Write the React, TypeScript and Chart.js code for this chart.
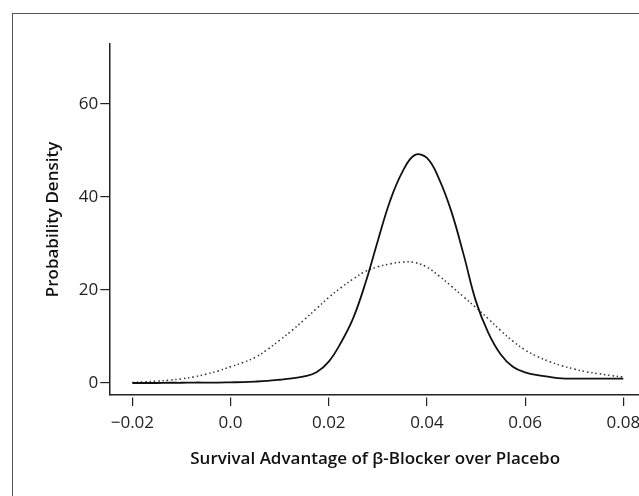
import { useEffect, useRef } from "react";
import { Chart, registerables } from "chart.js";

Chart.register(...registerables);

// x positions (survival advantage) shared by both curves
const xValues = [
  -0.02, -0.0175, -0.015, -0.0125, -0.01, -0.0075, -0.005, -0.0025, 0, 0.0025,
  0.005, 0.0075, 0.01, 0.0125, 0.015, 0.0175, 0.02, 0.0225, 0.025, 0.0275,
  0.03, 0.0325, 0.035, 0.0375, 0.04, 0.0425, 0.045, 0.0475, 0.05, 0.0525,
  0.055, 0.0575, 0.06, 0.0625, 0.065, 0.0675, 0.07, 0.0725, 0.075, 0.0775, 0.08,
];

// solid curve (narrow, peaked)
const solidDensity = [
  0, 0, 0, 0.05, 0.05, 0.1, 0.1, 0.1, 0.15, 0.2,
  0.3, 0.45, 0.7, 1.0, 1.4, 2.3, 4.6, 8.7, 14.0, 21.6,
  30.6, 39.2, 45.4, 49.0, 48.4, 43.8, 36.8, 27.5, 17.5, 10.8,
  6.2, 3.5, 2.3, 1.7, 1.3, 1.0, 0.95, 0.95, 0.95, 0.95, 0.95,
];

// dotted curve (wide)
const dottedDensity = [
  0.1, 0.25, 0.4, 0.6, 0.9, 1.3, 1.9, 2.6, 3.5, 4.4,
  5.5, 7.2, 9.2, 11.3, 13.6, 16.0, 18.4, 20.5, 22.4, 24.0,
  25.0, 25.6, 26.0, 25.9, 24.9, 23.0, 20.8, 18.5, 16.2, 13.8,
  11.3, 9.0, 7.1, 5.7, 4.6, 3.7, 3.0, 2.4, 2.0, 1.6, 1.3,
];

const xTickValues = [-0.02, 0, 0.02, 0.04, 0.06, 0.08];
const xTickLabels = ["\u22120.02", "0.0", "0.02", "0.04", "0.06", "0.08"];
const yTickValues = [0, 20, 40, 60];
const yTickLabels = ["0", "20", "40", "60"];

const xTitle = "Survival Advantage of \u03B2-Blocker over Placebo";
const yTitle = "Probability Density";

const FONT = "'Open Sans', 'Noto Sans', sans-serif";
const INK = "#222";

export default function App() {
  const canvasRef = useRef<HTMLCanvasElement | null>(null);

  useEffect(() => {
    const canvas = canvasRef.current;
    if (!canvas) return;
    const chart = new Chart(canvas, {
      type: "line",
      data: {
        datasets: [
          {
            label: "solid",
            data: xValues.map((x, i) => ({ x, y: solidDensity[i] })),
            borderColor: "#111",
            borderWidth: 1.8,
            pointRadius: 0,
            tension: 0.4,
            fill: false,
          },
          {
            label: "dotted",
            data: xValues.map((x, i) => ({ x, y: dottedDensity[i] })),
            borderColor: "#333",
            borderWidth: 1.5,
            borderDash: [1.5, 2.8],
            pointRadius: 0,
            tension: 0.4,
            fill: false,
          },
        ],
      },
      options: {
        animation: false,
        responsive: false,
        devicePixelRatio: 1,
        layout: { padding: { top: 44, left: 0, right: 0, bottom: 0 } },
        plugins: {
          legend: { display: false },
          tooltip: { enabled: false },
        },
        scales: {
          x: {
            type: "linear",
            min: -0.0247,
            max: 0.0836,
            border: { display: true, color: INK, width: 1.5 },
            grid: {
              display: true,
              drawOnChartArea: false,
              drawTicks: true,
              tickLength: 11,
              color: INK,
              lineWidth: 1.2,
              tickBorderDash: [9, 20],
              tickBorderDashOffset: -2,
            },
            ticks: {
              color: INK,
              font: { family: FONT, size: 17 },
              padding: 7,
              maxRotation: 0,
              autoSkip: false,
              callback: (_v: any, i: number) => xTickLabels[i],
            },
            afterBuildTicks: (s: any) => {
              s.ticks = xTickValues.map((v) => ({ value: v }));
            },
            afterFit: (s: any) => {
              s.height = 101;
              s.paddingLeft = 0;
              s.paddingRight = 0;
            },
            title: {
              display: true,
              text: xTitle,
              color: "#111",
              font: { family: FONT, size: 17, weight: "600" },
              padding: { top: 0, bottom: 27 },
            },
          },
          y: {
            type: "linear",
            min: -2.58,
            max: 72.9,
            border: { display: true, color: INK, width: 1.5 },
            grid: {
              display: true,
              drawOnChartArea: false,
              drawTicks: true,
              tickLength: 9,
              color: INK,
              lineWidth: 1.2,
            },
            ticks: {
              color: INK,
              font: { family: FONT, size: 17 },
              padding: 2,
              autoSkip: false,
              callback: (_v: any, i: number) => yTickLabels[i],
            },
            afterBuildTicks: (s: any) => {
              s.ticks = yTickValues.map((v) => ({ value: v }));
            },
            afterFit: (s: any) => {
              s.width = 109.3;
            },
            title: {
              display: true,
              text: yTitle,
              color: "#111",
              font: { family: FONT, size: 17, weight: "600" },
              padding: { top: 43, bottom: 0 },
            },
          },
        },
      },
    });
    return () => chart.destroy();
  }, []);

  return (
    <div
      style={{
        position: "fixed",
        left: 0,
        top: 0,
        width: 639,
        height: 496,
        overflow: "hidden",
        background: "#fff",
      }}
    >
      <div
        style={{
          position: "absolute",
          left: 12,
          top: 13,
          width: 700,
          height: 600,
          border: "1.5px solid #555",
          boxSizing: "border-box",
        }}
      />
      <canvas
        ref={canvasRef}
        width={641}
        height={496}
        style={{ position: "absolute", left: 0, top: 0, width: 641, height: 496 }}
      />
    </div>
  );
}
